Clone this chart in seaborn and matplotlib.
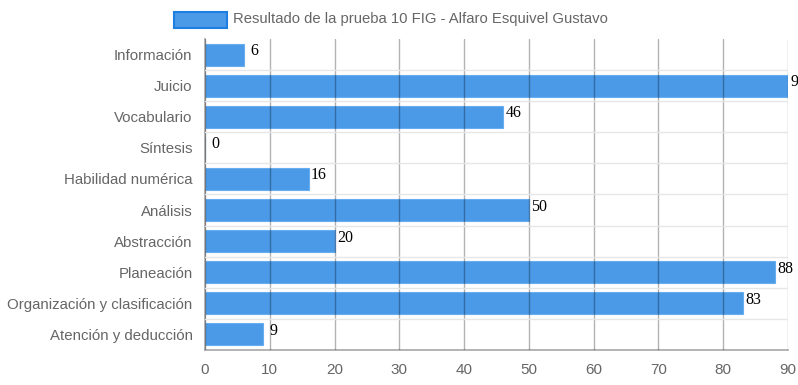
import matplotlib
matplotlib.use("Agg")
import matplotlib.pyplot as plt
import seaborn as sns
from matplotlib.patches import Rectangle

# Data
categories = ["Información", "Juicio", "Vocabulario", "Síntesis", "Habilidad numérica",
              "Análisis", "Abstracción", "Planeación", "Organización y clasificación",
              "Atención y deducción"]
values = [6, 90, 46, 0, 16, 50, 20, 88, 83, 9]
x_ticks = list(range(0, 100, 10))
legend_label = "Resultado de la prueba 10 FIG - Alfaro Esquivel Gustavo"

sns.set_theme(style="white")
plt.rcParams['font.family'] = ['Liberation Sans', 'DejaVu Sans']

BAR_COLOR = "#4a9ae8"
TEXT_GRAY = "#666666"

fig = plt.figure(figsize=(7.98, 3.85), dpi=100)
ax = fig.add_axes([205 / 798, 1 - 350 / 385, 583 / 798, 311 / 385])

sns.barplot(x=values, y=categories, orient="h", color=BAR_COLOR, saturation=1,
            width=0.71, edgecolor="#68adf0", linewidth=0.8, ax=ax, zorder=2)

# value labels centred just past the end of each bar
for i, v in enumerate(values):
    ax.annotate(str(v), xy=(v, i - 0.37), xytext=(7.5, 0), textcoords="offset points",
                ha="center", va="top", fontsize=11.5, color="black",
                family=["Liberation Serif", "DejaVu Serif"], annotation_clip=False)

ax.set_xlim(0, 90)
ax.set_ylim(len(categories) - 0.5, -0.5)
ax.set_xticks(x_ticks)
ax.set_xlabel("")
ax.set_ylabel("")

# vertical grid on top of bars, light horizontal separators
ax.set_axisbelow(False)
ax.grid(axis="x", color="black", alpha=0.3, linewidth=1, zorder=3)
ax.set_yticks([i + 0.5 for i in range(0, len(categories) - 1)], minor=True)
ax.grid(axis="y", which="minor", color="#e6e6e6", linewidth=1, zorder=1)
ax.tick_params(axis="y", which="minor", length=10, color="#e6e6e6", width=1)
ax.tick_params(axis="y", which="major", length=0, pad=9, labelsize=10.8, labelcolor=TEXT_GRAY)
ax.tick_params(axis="x", length=0, pad=9, labelsize=11, labelcolor=TEXT_GRAY)

for side in ["top", "right"]:
    ax.spines[side].set_visible(False)
ax.spines["left"].set_color("#aaaaaa")
ax.spines["bottom"].set_color("#aaaaaa")

# legend like the original: box + label at the top
fig.patches.append(Rectangle((174 / 798, 1 - 28 / 385), 53 / 798, 16 / 385,
                             transform=fig.transFigure, facecolor=BAR_COLOR,
                             edgecolor="#1f7fe0", linewidth=1.5))
fig.text(233 / 798, 1 - 19 / 385, legend_label, ha="left", va="center",
         fontsize=10.7, color=TEXT_GRAY)

fig.savefig("out.png", dpi=100)
